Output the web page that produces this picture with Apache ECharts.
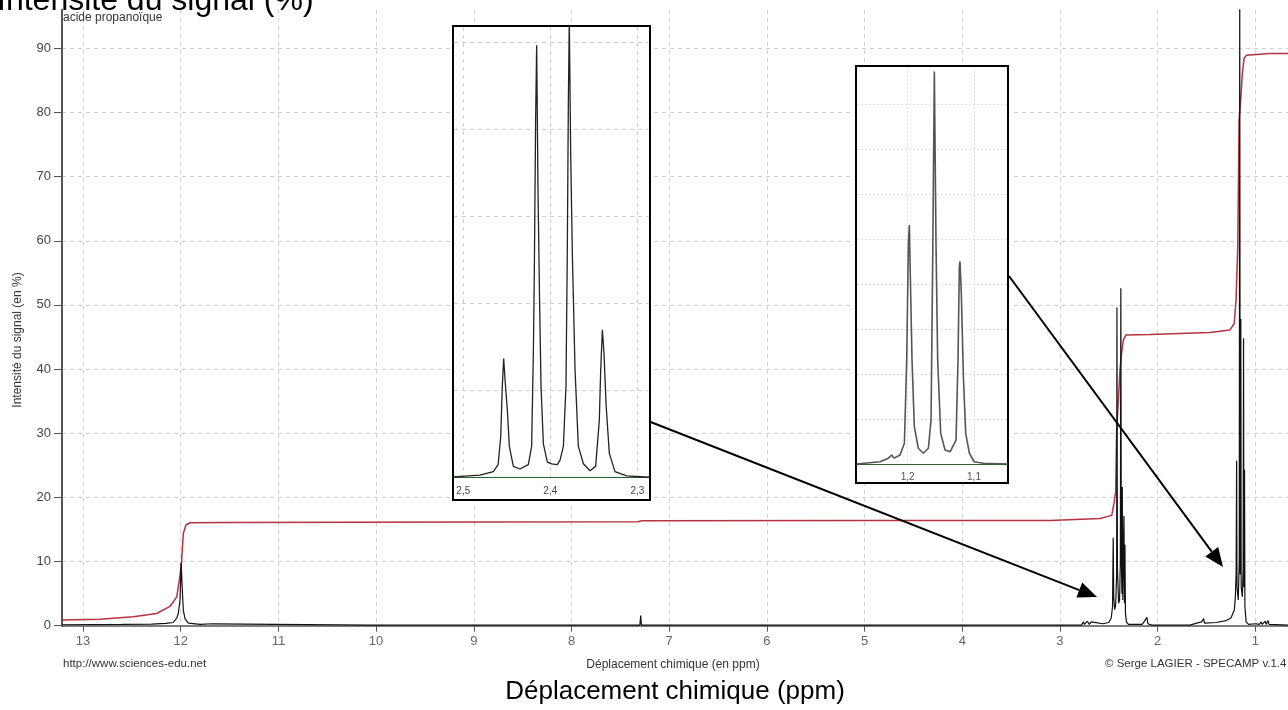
<!DOCTYPE html>
<html>
<head>
<meta charset="utf-8">
<script src="https://cdn.jsdelivr.net/npm/echarts@6/dist/echarts.min.js"></script>
<style>html,body{margin:0;padding:0;background:#fff;}#c{width:1288px;height:710px;}</style>
</head>
<body>
<div id="c"></div>
<script>
// ---------- DATA (ppm, intensity %) ----------
const mainSpectrum = [
  [13.215,0.15],[12.6,0.2],[12.3,0.25],[12.15,0.35],[12.076,0.5],[12.04,1.2],[12.025,1.9],[12.007,4.0],
  [11.995,9.8],[11.985,6],[11.973,2.4],[11.956,1.1],[11.922,0.4],[11.8,0.2],[11.68,0.3],[11.66,0.1],
  [10.07,0.1],[10.06,0.35],[10.05,0.1],[7.30,0.1],[7.292,1.6],[7.284,0.1],
  [2.78,0.1],[2.76,0.6],[2.75,0.2],[2.72,0.7],[2.70,0.2],[2.68,0.6],[2.66,0.3],[2.56,0.3],[2.50,0.5],
  [2.475,1.2],[2.462,3],[2.455,13.7],[2.45,4.5],[2.44,2.5],[2.43,3.2],[2.42,8],[2.417,49.6],[2.412,9],
  [2.40,3.5],[2.39,4],[2.382,10],[2.377,52.6],[2.372,11],[2.366,5],[2.362,21.6],[2.357,4],[2.345,17.1],
  [2.34,3.5],[2.335,12.6],[2.33,2],[2.32,0.6],[2.30,0.2],[2.16,0.2],[2.14,0.6],[2.13,0.3],[2.11,1.3],
  [2.10,0.3],[2.08,0.5],[2.06,0.1],[1.75,0.1],[1.73,0.4],[1.71,0.1],[1.69,0.4],[1.67,0.1],[1.60,0.4],
  [1.55,0.6],[1.53,1.1],[1.52,0.4],[1.40,0.5],[1.30,0.8],[1.25,1.2],[1.215,2.5],[1.205,4.5],[1.197,8],
  [1.192,25.7],[1.188,6],[1.175,4],[1.165,10],[1.160,100],[1.155,8],[1.149,47.8],[1.145,6],[1.133,4.5],
  [1.125,9],[1.121,44.8],[1.117,6],[1.111,24.3],[1.107,3],[1.095,0.6],[1.07,0.2],[1.00,0.3],[0.96,0.2],
  [0.94,0.6],[0.93,0.2],[0.91,0.5],[0.90,0.7],[0.89,0.2],[0.87,0.8],[0.86,0.2],[0.666,0.1]
];
const integralCurve = [
  [13.215,0.9],[12.826,1.0],[12.485,1.4],[12.246,1.9],[12.11,3.0],[12.04,4.5],[12.007,7.9],[11.99,10.2],
  [11.973,14.4],[11.946,15.7],[11.905,16.05],[11.5,16.1],[9.0,16.15],[7.32,16.2],[7.28,16.35],[5.0,16.4],
  [3.1,16.4],[2.59,16.7],[2.47,17.2],[2.447,19.1],[2.43,20.9],[2.42,30.5],[2.40,35.7],[2.386,39.9],
  [2.369,42.5],[2.352,44.5],[2.325,45.3],[2.08,45.4],[1.467,45.7],[1.26,46.1],[1.216,47.1],[1.198,50.7],
  [1.18,59.1],[1.167,78.8],[1.15,82],[1.133,86.1],[1.116,88.4],[1.092,88.9],[0.854,89.2],[0.666,89.2]
];
const zoomQuartet = [
  [2.5115,0.1],[2.481,0.3],[2.4655,0.7],[2.460,1.5],[2.457,4.7],[2.4552,10.5],[2.4536,13.7],[2.452,11.2],
  [2.4494,7.8],[2.4471,3.6],[2.4425,1.3],[2.4349,1.0],[2.4253,1.5],[2.4215,3.6],[2.4195,14.3],[2.4184,23.5],
  [2.4169,41.1],[2.4157,49.7],[2.4142,33.4],[2.4126,22],[2.4107,10.5],[2.408,3.9],[2.4034,1.8],[2.3985,1.6],
  [2.392,1.5],[2.3889,2.0],[2.385,3.6],[2.382,10.5],[2.3805,25.8],[2.3793,43.0],[2.3782,52.6],[2.3766,37.3],
  [2.3747,25.8],[2.3716,12.4],[2.3678,3.6],[2.362,1.6],[2.3544,0.8],[2.3479,1.3],[2.3437,6.6],[2.3421,12.4],
  [2.3402,17.0],[2.3383,14.3],[2.336,8.5],[2.3322,2.8],[2.3257,0.7],[2.3123,0.2],[2.2862,0.05]
];
const zoomTriplet = [
  [1.277,0],[1.2417,0.5],[1.2292,1.3],[1.2241,2.0],[1.2206,1.3],[1.2116,2.0],[1.205,4.6],[1.2015,23.1],
  [1.199,49],[1.1975,53.1],[1.196,41.6],[1.1935,23.1],[1.19,8.3],[1.184,3.5],[1.1764,2.4],[1.1688,3.5],
  [1.1648,9.8],[1.1623,45.3],[1.1598,87.2],[1.1573,49],[1.1548,23.1],[1.1502,6.8],[1.1437,3.1],[1.1361,2.7],
  [1.1271,5.3],[1.1241,23.1],[1.1221,43.9],[1.1211,45],[1.1191,37.9],[1.116,19.4],[1.1125,6.8],[1.107,2.4],
  [1.0999,0.5],[1.0859,0.15],[1.0482,0]
];
const texts = {
  bigY: 'Intensité du signal (%)',
  bigX: 'Déplacement chimique (ppm)',
  sample: 'acide propanoïque',
  yName: 'Intensité du signal (en %)',
  xName: 'Déplacement chimique (en ppm)',
  site: 'http://www.sciences-edu.net',
  copy: '© Serge LAGIER - SPECAMP v.1.4'
};

// ---------- CHART ----------
const chart = echarts.init(document.getElementById('c'), null, {renderer: 'canvas'});
const FONT = '"Liberation Sans", Arial, sans-serif';
const dash = {color: '#cfcfcf', type: [4, 4], width: 1};
const commaFmt = v => (Math.abs(v * 10 - Math.round(v * 10)) < 1e-6) ? v.toFixed(1).replace('.', ',') : '';
const intFmt = v => (Math.abs(v - Math.round(v)) < 1e-6) ? String(Math.round(v)) : '';

function arrow(x1, y1, x2, y2) {
  const a = Math.atan2(y2 - y1, x2 - x1), L = 19, W = 8;
  const c = Math.cos(a), s = Math.sin(a);
  const bx = x2 - L * c, by = y2 - L * s;
  return [
    {type: 'line', z: 40, shape: {x1: x1, y1: y1, x2: bx, y2: by}, style: {stroke: '#000', lineWidth: 2}},
    {type: 'polygon', z: 40, shape: {points: [[x2, y2], [bx - W * s, by + W * c], [bx + W * s, by - W * c]]}, style: {fill: '#000'}}
  ];
}
function txt(t, x, y, size, opts) {
  opts = opts || {};
  return {type: 'text', z: 50, x: x, y: y, rotation: opts.rot || 0,
    style: {text: t, font: size + 'px ' + FONT, fill: opts.fill || '#333',
      align: opts.align || 'left', textAlign: opts.align || 'left',
      verticalAlign: 'middle', textVerticalAlign: 'middle'}};
}

const option = {
  animation: false,
  backgroundColor: '#fff',
  grid: [
    {left: 62, right: 0, top: 9.8, bottom: 84.3},
    {left: 454, top: 27, width: 195, height: 450.7, z: 11},
    {left: 857, top: 67, width: 150, height: 397, z: 11}
  ],
  xAxis: [
    {type: 'value', gridIndex: 0, inverse: true, min: 0.666, max: 13.215, splitNumber: 12, minInterval: 1, maxInterval: 1,
      axisLine: {lineStyle: {color: '#555', width: 1.5}},
      axisTick: {length: 6, lineStyle: {color: '#555'}},
      axisLabel: {color: '#666', fontSize: 13, fontFamily: FONT, margin: 9, formatter: intFmt, showMinLabel: false, showMaxLabel: false},
      splitLine: {show: true, lineStyle: dash, showMinLine: false, showMaxLine: false}},
    {type: 'value', gridIndex: 1, inverse: true, min: 2.2866, max: 2.5107, splitNumber: 2, minInterval: 0.1, maxInterval: 0.1, z: 12,
      axisLine: {lineStyle: {color: '#2f5f2f', width: 1.2}},
      axisTick: {show: false},
      axisLabel: {color: '#444', fontSize: 10, fontFamily: FONT, margin: 9, formatter: commaFmt, showMinLabel: false, showMaxLabel: false},
      splitLine: {show: true, lineStyle: dash, showMinLine: false, showMaxLine: false}},
    {type: 'value', gridIndex: 2, inverse: true, min: 1.0502, max: 1.2765, splitNumber: 2, minInterval: 0.1, maxInterval: 0.1, z: 12,
      axisLine: {lineStyle: {color: '#2f5f2f', width: 1.2}},
      axisTick: {show: false},
      axisLabel: {color: '#555', fontSize: 10, fontFamily: FONT, margin: 8, formatter: commaFmt, showMinLabel: false, showMaxLabel: false},
      splitLine: {show: true, lineStyle: {color: '#e0e0e0', type: [2, 2]}, showMinLine: false, showMaxLine: false}}
  ],
  yAxis: [
    {type: 'value', gridIndex: 0, min: 0, max: 96, interval: 10,
      axisLine: {show: true, lineStyle: {color: '#555', width: 2}},
      axisTick: {show: true, length: 8, lineStyle: {color: '#555'}},
      axisLabel: {color: '#444', fontSize: 13, fontFamily: FONT, margin: 11, showMaxLabel: false},
      splitLine: {show: true, lineStyle: dash, showMinLine: false, showMaxLine: false}},
    {type: 'value', gridIndex: 1, min: 0, max: 51.8, interval: 10, z: 12,
      axisLine: {show: false}, axisTick: {show: false}, axisLabel: {show: false},
      splitLine: {show: true, lineStyle: dash, showMinLine: false, showMaxLine: false}},
    {type: 'value', gridIndex: 2, min: 0, max: 88.2, interval: 10, z: 12,
      axisLine: {show: false}, axisTick: {show: false}, axisLabel: {show: false},
      splitLine: {show: true, lineStyle: {color: '#e0e0e0', type: [2, 2]}, showMinLine: false, showMaxLine: false}}
  ],
  series: [
    {type: 'line', xAxisIndex: 0, yAxisIndex: 0, data: mainSpectrum, showSymbol: false, z: 3,
      lineStyle: {color: '#111', width: 1.2}},
    {type: 'line', xAxisIndex: 0, yAxisIndex: 0, data: integralCurve, showSymbol: false, z: 2,
      lineStyle: {color: '#b5323e', width: 1.5}},
    {type: 'line', xAxisIndex: 1, yAxisIndex: 1, data: zoomQuartet, showSymbol: false, z: 13,
      lineStyle: {color: '#222', width: 1.3},
      markLine: {silent: true, symbol: 'none', label: {show: false},
        lineStyle: {color: '#5cc05c', type: [2, 2], width: 2},
        data: [{xAxis: 2.3}, {yAxis: 0}]}},
    {type: 'line', xAxisIndex: 2, yAxisIndex: 2, data: zoomTriplet, showSymbol: false, z: 13,
      lineStyle: {color: '#555', width: 1.6},
      markLine: {silent: true, symbol: 'none', label: {show: false},
        lineStyle: {color: '#8fd18f', type: [2, 2], width: 1.2},
        data: [{xAxis: 1.07}]}}
  ],
  graphic: [
    {type: 'rect', z: 10, shape: {x: 453, y: 26, width: 197, height: 474}, style: {fill: '#fff', stroke: '#000', lineWidth: 2}},
    {type: 'rect', z: 10, shape: {x: 856, y: 66, width: 152, height: 417}, style: {fill: '#fff', stroke: '#000', lineWidth: 2}}
  ].concat(arrow(650, 421.7, 1097, 597), arrow(1009, 276, 1223, 567), [
    txt(texts.bigY, -3, 1.5, 32, {fill: '#000'}),
    txt(texts.sample, 63, 18, 12),
    txt(texts.yName, 18, 340, 12, {rot: Math.PI / 2, align: 'center'}),
    txt(texts.site, 63, 664, 11.5),
    txt(texts.xName, 673, 665, 12, {align: 'center'}),
    txt(texts.copy, 1105, 664, 11.5),
    txt(texts.bigX, 675, 692, 26, {fill: '#000', align: 'center'})
  ])
};
chart.setOption(option);
</script>
</body>
</html>
